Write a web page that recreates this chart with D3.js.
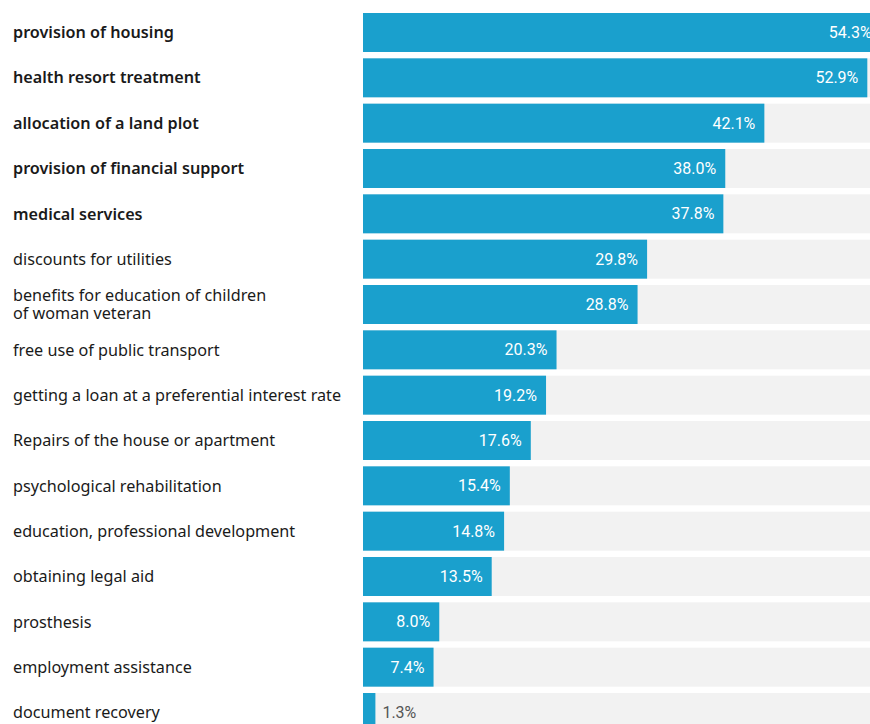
<!DOCTYPE html>
<html>
<head>
<meta charset="utf-8">
<script src="https://cdn.jsdelivr.net/npm/d3@7"></script>
<style>
  html, body { margin: 0; padding: 0; background: #ffffff; overflow: hidden; }
  svg { display: block; }
</style>
</head>
<body>
<svg id="chart" width="870" height="724"></svg>
<script>
// Benefits requested, share of respondents (%)
const categories = [
  "provision of housing",
  "health resort treatment",
  "allocation of a land plot",
  "provision of financial support",
  "medical services",
  "discounts for utilities",
  "benefits for education of children\nof woman veteran",
  "free use of public transport",
  "getting a loan at a preferential interest rate",
  "Repairs of the house or apartment",
  "psychological rehabilitation",
  "education, professional development",
  "obtaining legal aid",
  "prosthesis",
  "employment assistance",
  "document recovery"
];
const values = [54.3, 52.9, 42.1, 38.0, 37.8, 29.8, 28.8, 20.3, 19.2, 17.6, 15.4, 14.8, 13.5, 8.0, 7.4, 1.3];
// The leading five items are emphasised in the label column
const emphasised = [true, true, true, true, true, false, false, false, false, false, false, false, false, false, false, false];

const svg = d3.select("#chart");

const x = d3.scaleLinear().domain([0, 60]).range([363, 935]);
const y = d3.scaleBand()
  .domain(categories)
  .range([13, 732])
  .paddingInner(0.14)
  .paddingOuter(0);

const data = categories.map((c, i) => ({ cat: c, value: values[i], bold: emphasised[i] }));

// Background tracks
svg.append("g").selectAll("rect")
  .data(data)
  .join("rect")
  .attr("x", x(0))
  .attr("y", d => y(d.cat))
  .attr("width", x.range()[1] - x(0))
  .attr("height", y.bandwidth())
  .attr("fill", "#f2f2f2");

// Value bars
svg.append("g").selectAll("rect")
  .data(data)
  .join("rect")
  .attr("x", x(0))
  .attr("y", d => y(d.cat))
  .attr("width", d => x(d.value) - x(0))
  .attr("height", y.bandwidth())
  .attr("fill", "#1aa0cd");

// Category labels (left column)
const labels = svg.append("g")
  .attr("font-family", "'Noto Sans', 'Open Sans', sans-serif")
  .attr("font-size", "16.2px")
  .attr("fill", "#1a1a1a")
  .selectAll("text")
  .data(data)
  .join("text")
  .attr("x", 13)
  .attr("font-weight", d => d.bold ? 600 : 400);

labels.each(function(d) {
  const lines = d.cat.split("\n");
  const cy = y(d.cat) + y.bandwidth() / 2;
  const lh = 18;
  const t = d3.select(this);
  lines.forEach((line, k) => {
    t.append("tspan")
      .attr("x", 13)
      .attr("y", cy + (k - (lines.length - 1) / 2) * lh)
      .attr("dy", "0.35em")
      .text(line);
  });
});

// Value labels: inside the bar end when it fits, otherwise just after it
const fitsInside = d => x(d.value) - x(0) > 50;
svg.append("g")
  .attr("font-family", "Roboto, sans-serif")
  .attr("font-size", "16px")
  .selectAll("text")
  .data(data)
  .join("text")
  .attr("x", d => fitsInside(d) ? x(d.value) - 9 : x(d.value) + 7)
  .attr("y", d => y(d.cat) + y.bandwidth() / 2)
  .attr("dy", "0.35em")
  .attr("text-anchor", d => fitsInside(d) ? "end" : "start")
  .attr("fill", d => fitsInside(d) ? "#ffffff" : "#555555")
  .text(d => d.value.toFixed(1) + "%");
</script>
</body>
</html>
